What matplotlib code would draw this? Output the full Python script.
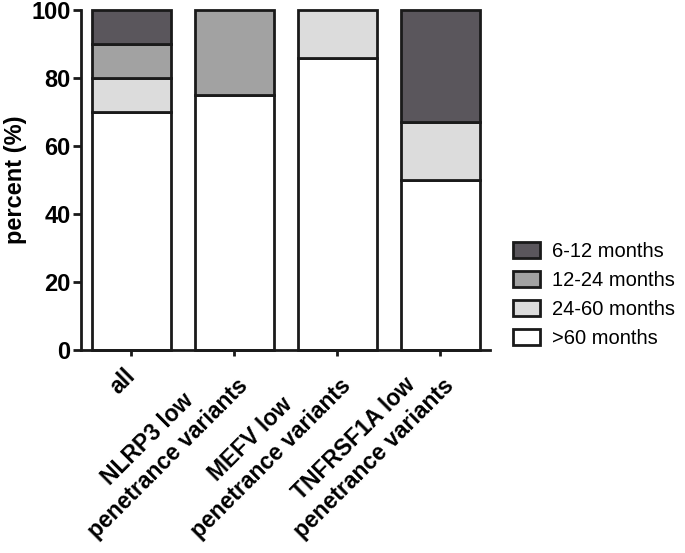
import numpy as np
import matplotlib.pyplot as plt
from matplotlib.patches import Patch

plt.rcParams['font.family'] = ['Liberation Sans', 'DejaVu Sans']

# categories (x axis)
groups = ['all', 'NLRP3 low\npenetrance variants', 'MEFV low\npenetrance variants',
          'TNFRSF1A low\npenetrance variants']

# percent of patients per onset age class, bottom to top
over60 = [70, 75, 86, 50]
m24_60 = [10, 0, 14, 17]
m12_24 = [10, 25, 0, 0]
m6_12 = [10, 0, 0, 33]

series = [('>60 months', over60, '#ffffff'),
          ('24-60 months', m24_60, '#dcdcdc'),
          ('12-24 months', m12_24, '#a2a2a2'),
          ('6-12 months', m6_12, '#5a565c')]

fig = plt.figure(figsize=(6.85, 5.53), dpi=100)
ax = fig.add_axes([0.118, 0.367, 0.597, 0.615])

x = np.arange(len(groups))
bottom = np.zeros(len(groups))
for name, vals, col in series:
    vals = np.array(vals, dtype=float)
    mask = vals > 0
    ax.bar(x[mask], vals[mask], bottom=bottom[mask], width=0.77, color=col,
           edgecolor='#1a1a1a', linewidth=2, label=name, clip_on=False, zorder=2)
    bottom += vals

ax.set_xlim(-0.49, 3.48)
ax.set_ylim(0, 100)
ax.set_yticks([0, 20, 40, 60, 80, 100])
ax.set_xticks(x)
ax.set_xticklabels(groups, rotation=45, ha='right', va='center', rotation_mode='anchor',
                   multialignment='center', linespacing=1.3,
                   fontsize=16.5, fontweight='bold')
for lab in ax.get_yticklabels():
    lab.set_fontsize(17)
    lab.set_fontweight('bold')
ax.set_ylabel('percent (%)', fontsize=17, fontweight='bold', labelpad=3)

for side in ['top', 'right']:
    ax.spines[side].set_visible(False)
for side in ['left', 'bottom']:
    ax.spines[side].set_linewidth(2)
    ax.spines[side].set_color('#1a1a1a')
ax.tick_params(axis='y', length=5.5, width=2, color='#1a1a1a', pad=2)
ax.tick_params(axis='x', length=4.3, width=2, color='#1a1a1a', pad=12)

handles = [Patch(facecolor=c, edgecolor='#1a1a1a', linewidth=2, label=n)
           for n, v, c in reversed(series)]
fig.legend(handles=handles, loc='upper left', bbox_to_anchor=(0.749, 0.562),
           frameon=False, fontsize=14.5, handlelength=1.35, handleheight=0.85,
           labelspacing=0.5, handletextpad=0.6, borderpad=0, borderaxespad=0)

fig.savefig('out.png', dpi=100)
